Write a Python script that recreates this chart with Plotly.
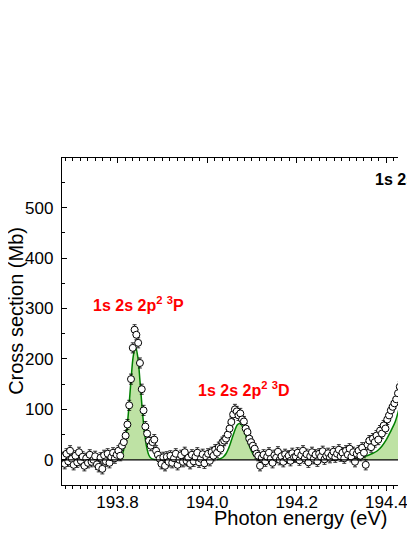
import plotly.graph_objects as go

# measured cross section (Mb) vs photon energy (eV)
energia = [
    193.678, 193.682, 193.686, 193.690, 193.694, 193.698, 193.702, 193.706, 193.710, 193.714,
    193.718, 193.722, 193.726, 193.730, 193.734, 193.738, 193.742, 193.746, 193.750, 193.754,
    193.758, 193.762, 193.766, 193.770, 193.774, 193.778, 193.782, 193.786, 193.790, 193.794,
    193.798, 193.802, 193.806, 193.810, 193.814, 193.818, 193.822, 193.826, 193.830, 193.834,
    193.838, 193.842, 193.846, 193.850, 193.854, 193.858, 193.862, 193.866, 193.870, 193.874,
    193.878, 193.882, 193.886, 193.890, 193.894, 193.898, 193.902, 193.906, 193.910, 193.914,
    193.918, 193.922, 193.926, 193.930, 193.934, 193.938, 193.942, 193.946, 193.950, 193.954,
    193.958, 193.962, 193.966, 193.970, 193.974, 193.978, 193.982, 193.986, 193.990, 193.994,
    193.998, 194.002, 194.006, 194.010, 194.014, 194.018, 194.022, 194.026, 194.030, 194.034,
    194.038, 194.042, 194.046, 194.050, 194.054, 194.058, 194.062, 194.066, 194.070, 194.074,
    194.078, 194.082, 194.086, 194.090, 194.094, 194.098, 194.102, 194.106, 194.110, 194.114,
    194.118, 194.122, 194.126, 194.130, 194.134, 194.138, 194.142, 194.146, 194.150, 194.154,
    194.158, 194.162, 194.166, 194.170, 194.174, 194.178, 194.182, 194.186, 194.190, 194.194,
    194.198, 194.202, 194.206, 194.210, 194.214, 194.218, 194.222, 194.226, 194.230, 194.234,
    194.238, 194.242, 194.246, 194.250, 194.254, 194.258, 194.262, 194.266, 194.270, 194.274,
    194.278, 194.282, 194.286, 194.290, 194.294, 194.298, 194.302, 194.306, 194.310, 194.314,
    194.318, 194.322, 194.326, 194.330, 194.334, 194.338, 194.342, 194.346, 194.350, 194.354,
    194.358, 194.362, 194.366, 194.370, 194.374, 194.378, 194.382, 194.386, 194.390, 194.394,
    194.398, 194.402, 194.406, 194.410, 194.414, 194.418, 194.422, 194.426, 194.430,
]
seccion = [
    5, -8, 12, -3, 18, 2, -10, 8, -5, 15,
    -2, 6, -12, 3, -6, 10, -4, 0, 7, -9,
    -14, 4, -18, 9, -3, 12, -6, 5, 14, 3,
    10, 18, 8, 28, 35, 48, 70, 108, 160, 222,
    258, 248, 232, 192, 140, 98, 66, 52, 38, 28,
    35, 40, 18, 10, 2, -8, 5, -12, 6, -4,
    8, -6, 3, 12, -10, 0, 9, -4, 15, -2,
    4, -8, 10, -3, 6, 14, -5, 2, 11, -7,
    6, 12, -2, 15, 8, 20, 14, 25, 22, 35,
    38, 42, 50, 62, 75, 90, 100, 96, 88, 92,
    80, 76, 62, 55, 42, 35, 28, 22, 12, 8,
    -12, 4, 10, -3, 6, 14, 2, -6, 9, 4,
    16, 0, 7, -4, 11, 3, 8, -2, 13, 5,
    6, 14, -1, 9, 18, 3, 11, -5, 7, 15,
    2, 10, -3, 12, 6, 17, 1, 8, 13, 4,
    9, 16, 5, 12, 20, 7, 14, 3, 18, 10,
    22, 6, 15, -4, 12, 18, 8, 24, 14, -10,
    30, 38, 25, 42, 35, 48, 40, 58, 52, 68,
    62, 80, 88, 98, 105, 112, 120, 132, 145,
]
error = 10

# fitted resonance profiles
fit1_x = [193.795, 193.800, 193.805, 193.810, 193.815, 193.820, 193.825, 193.830, 193.835, 193.840,
          193.845, 193.850, 193.855, 193.860, 193.865, 193.870, 193.875, 193.880, 193.885]
fit1_y = [0, 1, 3, 9, 25, 55, 101, 157, 205, 224, 205, 157, 101, 55, 25, 9, 3, 1, 0]

fit2_x = [194.022, 194.027, 194.032, 194.037, 194.042, 194.047, 194.052, 194.057, 194.062, 194.067,
          194.072, 194.077, 194.082, 194.087, 194.092, 194.097, 194.102, 194.107, 194.112, 194.117, 194.122]
fit2_y = [0.6, 1.4, 3.2, 6.6, 12, 21, 33, 46, 59, 69, 72, 69, 59, 46, 33, 21, 12, 6.6, 3.2, 1.4, 0.6]

fit3_x = [194.320, 194.330, 194.340, 194.350, 194.360, 194.370, 194.380, 194.390, 194.400, 194.410,
          194.420, 194.430, 194.440]
fit3_y = [1, 2, 4, 6, 9, 13, 18, 27, 40, 57, 76, 108, 150]

etiquetas = [
    (193.7413, 309, "1s 2s 2p<sup>2</sup> <sup>3</sup>P", "red"),
    (193.974, 140, "1s 2s 2p<sup>2</sup> <sup>3</sup>D", "red"),
    (194.371, 558, "1s 2s 2p<sup>2</sup> <sup>3</sup>S", "black"),
]

FONT = "Liberation Sans, Arial, sans-serif"

fig = go.Figure()

for fx, fy in [(fit1_x, fit1_y), (fit2_x, fit2_y), (fit3_x, fit3_y)]:
    fig.add_trace(go.Scatter(
        x=fx, y=fy,
        mode="lines",
        fill="tozeroy",
        fillcolor="rgb(190,226,164)",
        line=dict(color="#008000", width=1.5, shape="spline"),
        showlegend=False,
        hoverinfo="skip"
    ))

fig.add_trace(go.Scatter(
    x=energia, y=seccion,
    mode="markers",
    marker=dict(symbol="circle", size=7, color="white", line=dict(color="black", width=1)),
    error_y=dict(type="constant", value=error, color="black", thickness=0.8, width=2),
    showlegend=False
))

# dummy trace so the top axis is drawn
fig.add_trace(go.Scatter(x=[], y=[], xaxis="x2", showlegend=False))

annotations = []
for x, y, txt, col in etiquetas:
    annotations.append(dict(
        x=x, y=y, xref="x", yref="y",
        text=f"<b>{txt}</b>",
        showarrow=False,
        xanchor="left", yanchor="middle",
        font=dict(family=FONT, size=16, color=col)
    ))
annotations.append(dict(
    x=194.208, y=-0.101, xref="x", yref="paper",
    text="Photon energy (eV)", showarrow=False,
    xanchor="center", yanchor="middle",
    font=dict(family=FONT, size=20, color="black")
))
annotations.append(dict(
    x=-0.139, y=296, xref="paper", yref="y",
    text="Cross section (Mb)", showarrow=False, textangle=-90,
    xanchor="center", yanchor="middle",
    font=dict(family=FONT, size=20, color="black")
))

x_range = [193.676, 194.426]

fig.update_layout(
    width=399,
    height=521,
    paper_bgcolor="white",
    plot_bgcolor="white",
    font=dict(family=FONT, size=17, color="black"),
    margin=dict(l=54, r=0, t=150, b=44),
    xaxis=dict(
        range=x_range,
        tick0=193.8, dtick=0.2,
        tickformat=".1f",
        ticks="outside", ticklen=5, tickwidth=1, tickcolor="black",
        minor=dict(dtick=0.2 / 12, tick0=193.8, ticks="outside", ticklen=3, tickcolor="black"),
        ticklabeloverflow="allow",
        ticklabelstandoff=-4,
        showline=True, linecolor="black", linewidth=1.3,
        showgrid=False, zeroline=False
    ),
    xaxis2=dict(
        range=x_range, overlaying="x", side="top",
        tick0=193.8, dtick=0.2,
        ticks="inside", ticklen=5, tickcolor="black",
        minor=dict(dtick=0.2 / 12, tick0=193.8, ticks="inside", ticklen=3, tickcolor="black"),
        showticklabels=False,
        showline=True, linecolor="black", linewidth=1.3,
        showgrid=False, zeroline=False
    ),
    yaxis=dict(
        range=[-50, 598.6],
        tick0=0, dtick=100,
        ticks="inside", ticklen=5, tickwidth=1, tickcolor="black",
        minor=dict(dtick=50, ticks="inside", ticklen=3, tickcolor="black"),
        ticklabelstandoff=4,
        showline=True, linecolor="black", linewidth=1.3,
        showgrid=False, zeroline=False
    ),
    shapes=[dict(
        type="line", xref="paper", yref="y",
        x0=0, x1=1, y0=0, y1=0,
        line=dict(color="black", width=1.3),
        layer="above"
    )],
    annotations=annotations
)

fig.write_html("out.html")
